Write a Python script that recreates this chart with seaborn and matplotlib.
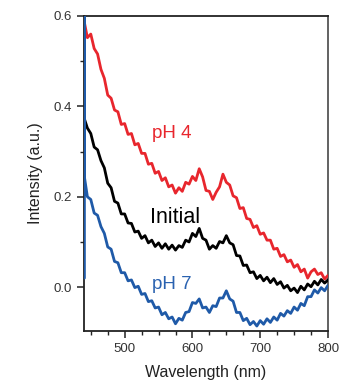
import numpy as np
import pandas as pd
import matplotlib
matplotlib.use("Agg")
import matplotlib.pyplot as plt
from matplotlib.ticker import MultipleLocator
import seaborn as sns

# Emission spectra (intensity, a.u.) sampled every 5 nm from 440 to 800 nm
wavelength = np.arange(440, 801, 5)

ph4 = [
    0.590, 0.552, 0.560, 0.528, 0.516, 0.482, 0.462, 0.425, 0.418, 0.392,   # 440-485
    0.388, 0.360, 0.362, 0.338, 0.340, 0.315, 0.318, 0.296, 0.296, 0.272,   # 490-535
    0.274, 0.252, 0.256, 0.236, 0.242, 0.222, 0.226, 0.208, 0.220, 0.212,   # 540-585
    0.232, 0.228, 0.245, 0.236, 0.262, 0.244, 0.214, 0.212, 0.194, 0.210,   # 590-635
    0.222, 0.250, 0.232, 0.226, 0.202, 0.198, 0.174, 0.176, 0.152, 0.150,   # 640-685
    0.132, 0.136, 0.117, 0.120, 0.104, 0.104, 0.084, 0.086, 0.068, 0.072,   # 690-735
    0.056, 0.060, 0.044, 0.050, 0.034, 0.040, 0.020, 0.034, 0.040, 0.028,   # 740-785
    0.032, 0.018, 0.026,                                                    # 790-800
]

initial = [
    0.375, 0.352, 0.340, 0.310, 0.304, 0.280, 0.264, 0.230, 0.220, 0.190,
    0.186, 0.162, 0.162, 0.142, 0.141, 0.122, 0.124, 0.108, 0.114, 0.098,
    0.104, 0.090, 0.098, 0.086, 0.096, 0.084, 0.093, 0.082, 0.092, 0.088,
    0.104, 0.100, 0.119, 0.112, 0.130, 0.108, 0.104, 0.084, 0.092, 0.086,
    0.101, 0.098, 0.114, 0.098, 0.094, 0.070, 0.069, 0.048, 0.049, 0.032,
    0.034, 0.019, 0.026, 0.014, 0.022, 0.010, 0.019, 0.006, 0.012, -0.002,
    0.004, -0.008, -0.002, -0.012, 0.002, -0.006, 0.007, 0.001, 0.013, 0.005,
    0.017, 0.009, 0.016,
]

ph7 = [
    0.250, 0.200, 0.194, 0.164, 0.159, 0.134, 0.119, 0.089, 0.084, 0.057,
    0.054, 0.032, 0.032, 0.014, 0.016, -0.001, 0.002, -0.016, -0.014, -0.032,
    -0.030, -0.046, -0.044, -0.061, -0.056, -0.070, -0.066, -0.081, -0.069, -0.073,
    -0.056, -0.054, -0.034, -0.036, -0.026, -0.046, -0.044, -0.056, -0.041, -0.043,
    -0.024, -0.024, -0.008, -0.026, -0.031, -0.056, -0.056, -0.074, -0.069, -0.083,
    -0.076, -0.086, -0.074, -0.082, -0.070, -0.078, -0.066, -0.073, -0.058, -0.064,
    -0.052, -0.058, -0.044, -0.051, -0.036, -0.041, -0.021, -0.021, -0.006, -0.013,
    -0.001, -0.008, 0.004,
]
# detector edge spike recorded at the start of the pH 7 scan
ph7_edge_nm = [440.6, 440.6]
ph7_edge = [0.02, 0.62]

labels = ["pH 4", "Initial", "pH 7"]
colors = ["#e8262d", "#000000", "#1f5aa8"]
label_colors = ["#e8262d", "#000000", "#2a62b0"]
label_size = [13.5, 15.5, 13.5]
label_nm = [540, 537, 540]
label_y = [0.34, 0.155, 0.005]

sns.set_style("ticks")
plt.rcParams["font.family"] = ["Liberation Sans", "DejaVu Sans"]

fig = plt.figure(figsize=(3.48, 3.92), dpi=100)
ax = fig.add_axes([0.2414, 0.1556, 0.7011, 0.8036])

series = {
    "pH 4": (list(wavelength), ph4),
    "Initial": (list(wavelength), initial),
    "pH 7": (ph7_edge_nm + list(wavelength), ph7_edge + ph7),
}
for name, color in zip(labels, colors):
    x, y = series[name]
    df = pd.DataFrame({"nm": x, "I": y})
    sns.lineplot(data=df, x="nm", y="I", ax=ax, color=color, lw=2.0,
                 estimator=None, sort=False, zorder=3)

for name, color, size, lx, ly in zip(labels, label_colors, label_size,
                                     label_nm, label_y):
    ax.text(lx, ly, name, color=color, fontsize=size, ha="left", va="center")

ax.set_xlim(440, 800)
ax.set_ylim(-0.097, 0.6)
ax.xaxis.set_major_locator(MultipleLocator(100))
ax.xaxis.set_minor_locator(MultipleLocator(25))
ax.yaxis.set_major_locator(MultipleLocator(0.2))
ax.yaxis.set_minor_locator(MultipleLocator(0.1))
ax.yaxis.set_major_formatter(matplotlib.ticker.FormatStrFormatter("%.1f"))

ax.tick_params(which="major", direction="out", length=5, width=1.1,
               labelsize=9.5, labelcolor="#333333", color="#222222")
ax.tick_params(which="minor", direction="out", length=3, width=1.0,
               color="#222222")
for side in ["left", "right", "top", "bottom"]:
    ax.spines[side].set_visible(True)
    ax.spines[side].set_linewidth(1.3)
    ax.spines[side].set_color("#222222")
ax.spines["right"].set_color("#555555")

ax.set_xlabel("Wavelength (nm)", fontsize=11.5, color="#222222", labelpad=7)
ax.set_ylabel("Intensity (a.u.)", fontsize=11.5, color="#222222", labelpad=8)

fig.savefig("out.png", dpi=100)
